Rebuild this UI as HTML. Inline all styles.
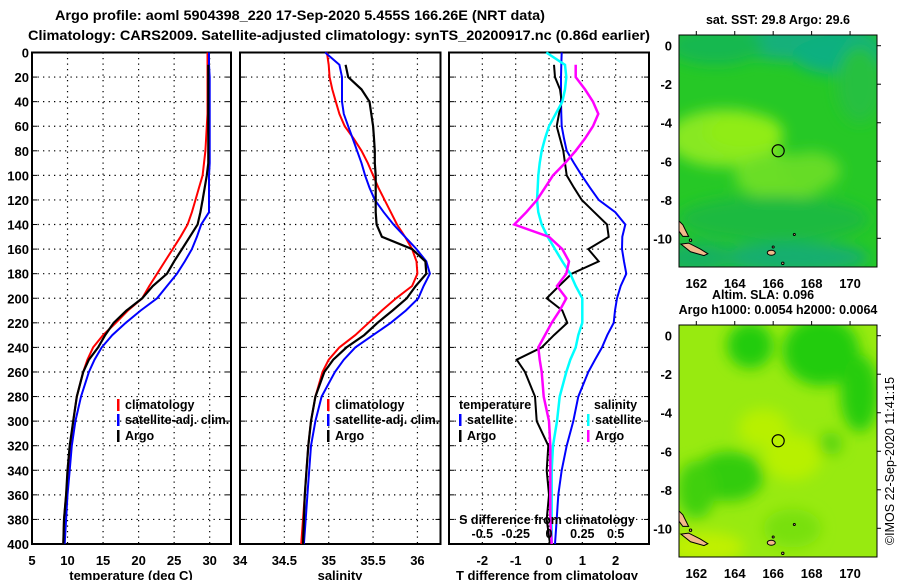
<!DOCTYPE html>
<html><head><meta charset="utf-8"><style>
html,body{margin:0;padding:0;background:#fff;}
svg{display:block;font-family:"Liberation Sans",Arial,sans-serif;font-weight:bold;}
</style></head><body>
<svg id="fig" width="900" height="580" viewBox="0 0 900 580" xmlns="http://www.w3.org/2000/svg">
<defs>
<filter id="blur6" x="-50%" y="-50%" width="200%" height="200%"><feGaussianBlur stdDeviation="7"/></filter>
<clipPath id="clipTop"><rect x="679" y="35" width="198" height="232"/></clipPath>
<clipPath id="clipBot"><rect x="679" y="325" width="198" height="232"/></clipPath>
</defs>
<text x="300" y="20" font-size="14" text-anchor="middle" textLength="490" lengthAdjust="spacingAndGlyphs">Argo profile: aoml 5904398_220 17-Sep-2020 5.455S 166.26E (NRT data)</text>
<text x="339" y="40" font-size="14" text-anchor="middle" textLength="622" lengthAdjust="spacingAndGlyphs">Climatology: CARS2009. Satellite-adjusted climatology: synTS_20200917.nc (0.86d earlier)</text>
<g id="panels"></g>
<g id="maps"></g>
</svg>
<script>
// ---- data ----
const depths = [0,10,20,30,40,50,60,70,80,90,100,110,120,130,140,150,160,170,180,190,200,210,220,230,240,250,260,280,300,320,340,360,380,400];
const tempClim = [29.7,29.7,29.7,29.7,29.7,29.7,29.6,29.5,29.4,29.2,29.0,28.5,28.0,27.5,26.9,25.9,24.8,23.7,22.6,21.5,20.5,18.5,16.8,15.0,13.6,12.8,12.2,11.3,10.8,10.4,10.1,9.8,9.5,9.4];
const tempSat = [29.9,29.9,30.0,30.0,30.0,30.0,30.0,30.0,30.0,30.0,29.9,29.9,29.9,29.9,28.8,28.2,27.5,26.5,25.4,24.0,22.6,20.3,18.2,16.3,14.8,13.8,13.0,11.9,11.1,10.6,10.3,10.0,9.8,9.6];
const tempArgo = [null,29.8,29.8,29.8,29.8,29.8,29.8,29.8,29.8,29.8,29.6,29.3,29.0,28.7,28.3,27.2,26.1,25.0,24.0,22.0,20.5,18.3,16.5,15.3,14.3,13.0,12.2,11.3,10.8,10.3,10.0,9.8,9.5,9.4];
const salClim = [34.98,35.0,35.01,35.04,35.08,35.12,35.18,35.28,35.37,35.44,35.5,35.56,35.63,35.7,35.77,35.86,35.94,35.99,36.0,35.94,35.76,35.6,35.45,35.3,35.12,35.0,34.93,34.85,34.8,34.77,34.75,34.73,34.71,34.69];
const salSat = [34.96,35.12,35.15,35.15,35.15,35.17,35.22,35.27,35.32,35.37,35.41,35.46,35.52,35.62,35.73,35.86,35.99,36.1,36.14,36.07,36.01,35.87,35.7,35.5,35.3,35.17,35.07,34.92,34.85,34.8,34.78,34.76,34.74,34.72];
const salArgo = [null,35.19,35.22,35.37,35.46,35.48,35.5,35.51,35.52,35.52,35.53,35.53,35.53,35.53,35.54,35.6,35.94,36.09,36.1,35.98,35.88,35.72,35.55,35.4,35.2,35.05,34.95,34.85,34.8,34.77,34.75,34.73,34.72,34.71];
const tDiffSat = [0.38,0.37,0.36,0.36,0.36,0.37,0.38,0.45,0.53,0.75,0.98,1.23,1.49,1.99,2.29,2.2,2.19,2.25,2.32,2.15,2.04,1.98,1.94,1.75,1.59,1.38,1.18,0.88,0.73,0.53,0.38,0.28,0.23,0.18];
const tDiffArgo = [null,0.15,0.18,0.33,0.38,0.3,0.23,0.33,0.43,0.48,0.53,0.75,0.98,1.36,1.74,1.79,1.18,1.49,0.68,0.3,-0.07,0.4,0.55,0.15,-0.22,-0.97,-0.72,-0.42,-0.37,-0.02,-0.07,0,-0.07,0.03];
const sDiffSat = [-0.02,0.12,0.13,0.12,0.1,0.05,0.0,-0.03,-0.055,-0.07,-0.08,-0.085,-0.09,-0.08,-0.055,-0.01,0.045,0.1,0.16,0.2,0.25,0.25,0.25,0.22,0.2,0.16,0.13,0.08,0.06,0.03,0.02,0.02,0.02,0.02];
const sDiffArgo = [null,0.2,0.2,0.27,0.33,0.37,0.33,0.27,0.2,0.12,0.03,-0.03,-0.09,-0.17,-0.26,0.0,0.1,0.15,0.13,0.06,0.13,0.08,0.02,-0.03,-0.08,-0.07,-0.055,-0.04,0,0.01,0.01,0.01,0.01,0.02];
const depthTicks = [0,20,40,60,80,100,120,140,160,180,200,220,240,260,280,300,320,340,360,380,400];
const tempTicks = [5,10,15,20,25,30];
const salTicks = [34,34.5,35,35.5,36];
const tDiffTicks = [-2,-1,0,1,2];
const sDiffTicks = [-0.5,-0.25,0,0.25,0.5];
const lonTicks = [162,164,166,168,170];
const latTicks = [0,-2,-4,-6,-8,-10];
const floatLon = 166.26, floatLat = -5.455;

// ---- helpers ----
const NS = 'http://www.w3.org/2000/svg';
const TOP = 52.5, BOT = 544;
function yDepth(d){ return TOP + d*(BOT-TOP)/400; }
function mk(tag, attrs, parent){ const e=document.createElementNS(NS,tag); for(const k in attrs) e.setAttribute(k,attrs[k]); parent.appendChild(e); return e; }
function txt(x,y,s,size,anchor,parent,fill){ const t=mk('text',{x:x,y:y,'font-size':size,'text-anchor':anchor||'start',fill:fill||'#000'},parent); t.textContent=s; return t; }
const panels = document.getElementById('panels');
function panel(name, x0, x1, vmin, vmax, xticks, grid, showYLabels){
  const g = mk('g',{},panels);
  
  
  const sx = v => x0 + (v - vmin)*(x1-x0)/(vmax-vmin);
  depthTicks.forEach(d=>{ if(d>0&&d<400){ const l=mk('line',{x1:x0,x2:x1,y1:yDepth(d),y2:yDepth(d),stroke:'#000','stroke-width':1.2,'stroke-dasharray':'1.3 4.2'},g);
      }
    mk('line',{x1:x0,x2:x0+5,y1:yDepth(d),y2:yDepth(d),stroke:'#000','stroke-width':1},g);
    mk('line',{x1:x1-5,x2:x1,y1:yDepth(d),y2:yDepth(d),stroke:'#000','stroke-width':1},g);
  });
  grid.forEach(v=>{ const X=sx(v); if(X>x0+1&&X<x1-1){ const l=mk('line',{x1:X,x2:X,y1:TOP,y2:BOT,stroke:'#000','stroke-width':1.2,'stroke-dasharray':'1.3 4.2'},g);
      }});
  mk('rect',{x:x0,y:TOP,width:x1-x0,height:BOT-TOP,fill:'none',stroke:'#000','stroke-width':2},g);
  if(showYLabels){ depthTicks.forEach(d=>{ const t=txt(29,yDepth(d)+5,String(d),13,'end',g);
      }); }
  xticks.forEach(v=>{ const t=txt(sx(v),565,String(v),13,'middle',g);
      });
  return {g:g,sx:sx};
}
function line(p, vals, color, w, name, scale){
  const pts=[]; vals.forEach((v,i)=>{ if(v!==null) pts.push((p.sx(v*(scale||1))).toFixed(1)+','+yDepth(depths[i]).toFixed(1)); });
  const pl = mk('polyline',{points:pts.join(' '),fill:'none',stroke:color,'stroke-width':w,'stroke-linejoin':'miter'},p.g);
  
  
}
function legendEntry(p, x, y, color, label, name){
  const g = mk('g',{},p.g);
  
  
  if(color) mk('rect',{x:x,y:y-10,width:2.5,height:12,fill:color},g);
  txt(x+(color?8:0),y,label,12.5,'start',g);
}

const p1 = panel('temperature-panel', 32, 231, 5, 33.0, tempTicks, [10,15,20,25,30], true);
line(p1, tempClim, '#ff0000', 2, 'temp-climatology-line');
line(p1, tempSat, '#0000ff', 2, 'temp-satellite-line');
line(p1, tempArgo, '#000000', 2.2, 'temp-argo-line');
legendEntry(p1, 117, 409, '#ff0000', 'climatology', 'legend-climatology');
legendEntry(p1, 117, 424, '#0000ff', 'satellite-adj. clim.', 'legend-satellite-adj');
legendEntry(p1, 117, 440, '#000000', 'Argo', 'legend-argo');
{ const t=txt(131,580,'temperature (deg C)',13,'middle',p1.g);   }

const p2 = panel('salinity-panel', 240, 440.5, 34, 36.26, salTicks, [34.5,35,35.5,36], false);
line(p2, salClim, '#ff0000', 2, 'sal-climatology-line');
line(p2, salSat, '#0000ff', 2, 'sal-satellite-line');
line(p2, salArgo, '#000000', 2.2, 'sal-argo-line');
legendEntry(p2, 327, 409, '#ff0000', 'climatology', 'legend-climatology-sal');
legendEntry(p2, 327, 424, '#0000ff', 'satellite-adj. clim.', 'legend-satellite-adj-sal');
legendEntry(p2, 327, 440, '#000000', 'Argo', 'legend-argo-sal');
{ const t=txt(340,580,'salinity',13,'middle',p2.g);   }

const p3 = panel('difference-panel', 449, 649, -3, 3, tDiffTicks, [-2,-1,0,1,2], false);
line(p3, tDiffSat, '#0000ff', 2, 'tdiff-satellite-line');
line(p3, tDiffArgo, '#000000', 2, 'tdiff-argo-line');
line(p3, sDiffSat, '#00ffff', 2.5, 'sdiff-satellite-line', 4);
line(p3, sDiffArgo, '#ff00ff', 2.5, 'sdiff-argo-line', 4);
legendEntry(p3, 459, 409, null, 'temperature', 'legend-temperature-header');
legendEntry(p3, 459, 424, '#0000ff', 'satellite', 'legend-temp-satellite');
legendEntry(p3, 459, 440, '#000000', 'Argo', 'legend-temp-argo');
legendEntry(p3, 594, 409, null, 'salinity', 'legend-salinity-header');
legendEntry(p3, 587, 424, '#00ffff', 'satellite', 'legend-sal-satellite');
legendEntry(p3, 587, 440, '#ff00ff', 'Argo', 'legend-sal-argo');
{ const t=txt(547,524,'S difference from climatology',12.5,'middle',p3.g);   }
sDiffTicks.forEach(v=>{ const t=txt(p3.sx(v*4),538,String(v),12.5,'middle',p3.g);
    });
{ const t=txt(547,580,'T difference from climatology',13,'middle',p3.g);   }

// ---- maps ----
const maps = document.getElementById('maps');
const lonX = lon => 696.3 + (lon-162)*19.22;
function map(name, y0, title, clipId, base, blobs){
  const g = mk('g',{},maps);
  
  
  const latY = lat => y0 + 10.7 - lat*19.26;
  const cg = mk('g',{'clip-path':'url(#'+clipId+')'},g);
  mk('rect',{x:679,y:y0,width:198,height:232,fill:base},cg);
  const bg = mk('g',{filter:'url(#blur6)'},cg);
  blobs.forEach(b=> mk('ellipse',{cx:lonX(b[0]),cy:latY(b[1]),rx:b[2]*19.2,ry:b[3]*19.2,fill:b[4]},bg));
  const isl = mk('g',{fill:'#f2b98a',stroke:'#000','stroke-width':1},cg);
   
  mk('path',{d:`M${lonX(161.2)},${latY(-10.3)} L${lonX(161.6)},${latY(-10.25)} L${lonX(162.2)},${latY(-10.55)} L${lonX(162.6)},${latY(-10.8)} L${lonX(162.4)},${latY(-10.9)} L${lonX(161.7)},${latY(-10.7)} Z`},isl);
  mk('path',{d:`M${lonX(161.0)},${latY(-9.0)} L${lonX(161.3)},${latY(-9.3)} L${lonX(161.6)},${latY(-9.9)} L${lonX(161.3)},${latY(-9.9)} L${lonX(161.0)},${latY(-9.5)} Z`},isl);
  mk('ellipse',{cx:lonX(165.9),cy:latY(-10.75),rx:4,ry:2.5},isl);
  mk('circle',{cx:lonX(166.0),cy:latY(-10.45),r:1},isl);
  mk('circle',{cx:lonX(166.5),cy:latY(-11.3),r:1.2},isl);
  mk('circle',{cx:lonX(167.1),cy:latY(-9.8),r:1},isl);
  mk('circle',{cx:lonX(161.7),cy:latY(-10.1),r:1.2},isl);
  const m = mk('circle',{cx:lonX(floatLon),cy:latY(floatLat),r:6,fill:'none',stroke:'#000','stroke-width':1.2},g);
   
  mk('rect',{x:679,y:y0,width:198,height:232,fill:'none',stroke:'#000','stroke-width':1},g);
  lonTicks.forEach(l=>{ mk('line',{x1:lonX(l),x2:lonX(l),y1:y0-4,y2:y0,stroke:'#000'},g);
    const t=txt(lonX(l),y0+253,String(l),13,'middle',g);   });
  latTicks.forEach(l=>{ mk('line',{x1:877,x2:881,y1:latY(l),y2:latY(l),stroke:'#000'},g);
    const t=txt(672,latY(l)+5,String(l),13,'end',g);   });
  const t=txt(778,y0-11,title,12.5,'middle',g);  
}
map('sst-map', 35, 'sat. SST: 29.8 Argo: 29.6', 'clipTop', '#26c826', [
  [167.5,0.2,4,1,'#14b07a'],[169.5,-0.5,2.5,1,'#10b080'],[163,0,2.5,1,'#18b850'],
  [163.5,-4.8,3,1.5,'#88e820'],[164.5,-4.5,2,1,'#90ec18'],[166.5,-6.8,2.5,1.2,'#6ade26'],[168,-6.5,1.5,1,'#66dc28'],
  [166,-9,5,1.2,'#1cba40'],[167,-11,4,0.8,'#16ae70'],[162,-11,2,0.8,'#18b060'],[170.5,-2,1.2,2,'#28c040']]);
map('sla-map', 325, 'Argo h1000: 0.0054 h2000: 0.0064', 'clipBot', '#98ea10', [
  [164.8,-0.5,1.2,1.2,'#24cc10'],[168.5,-0.8,2,1.8,'#20cc10'],[170.5,-3,1,2,'#28cc10'],
  [163.7,-7.3,1.8,1.3,'#30cc10'],[162,-8,1,1.5,'#40d010'],[169,-5.6,0.6,0.6,'#58d410'],[167,-10,1.5,1,'#78e010'],
  [165.5,-4.8,1.3,1,'#b8f000'],[167,-6.3,1.5,1.2,'#b8f000'],[162.5,-11,2,0.8,'#c0f000']]);
{ const t=txt(763,299,'Altim. SLA: 0.096',12.5,'middle',maps);   }
{ const t=txt(0,0,'©IMOS 22-Sep-2020 11:41:15',12.5,'middle',maps); t.setAttribute('transform','translate(894,461) rotate(-90)'); t.setAttribute('font-weight','normal');   }
</script>
</body></html>
